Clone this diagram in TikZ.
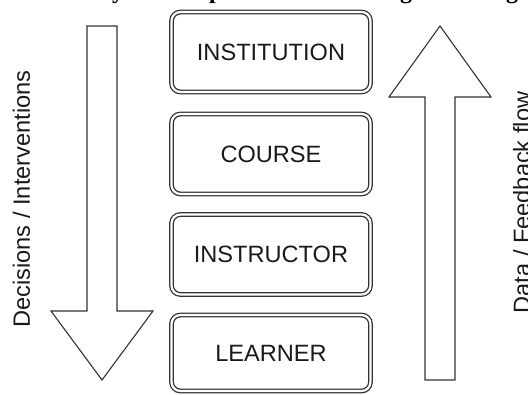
\documentclass[tikz,border=0pt]{standalone}
\usepackage{fontspec}
\setmainfont{Liberation Sans}
\newfontfamily\headingserif{Liberation Serif}
\newcommand\lvlfont{\fontsize{23.6}{28}\selectfont}
\definecolor{linegray}{HTML}{333333}
\definecolor{textgray}{HTML}{1A1A1A}
\begin{document}
\begin{tikzpicture}[x=1pt,y=-1pt,
  level/.style={draw=linegray, double=white, double distance=2.2pt,
    line width=1.3pt, rounded corners=9pt, minimum width=199pt,
    minimum height=80pt, inner sep=0pt, font=\lvlfont, text=textgray},
  blockarrow/.style={draw=linegray, line width=1.1pt, fill=white, line join=miter},
  sidelabel/.style={rotate=90, anchor=base, font=\lvlfont, text=textgray, inner sep=0pt},
  headglyph/.style={anchor=base west, inner sep=0pt,
    font=\headingserif\bfseries\fontsize{24}{24}\selectfont}
]
\useasboundingbox (0,0) rectangle (528,394);
\clip (0,0) rectangle (528,394);

% descenders of the heading line above the figure
\node[headglyph] (hy) at (112,-1.5) {y};
\node[headglyph] (hp) at (209,-1.5) {p};
\node[headglyph] (hg1) at (400,-1.5) {g};
\node[headglyph] (hg2) at (506,-1.5) {g};

% downward block arrow
\draw[blockarrow] (87,26) -- (117,26) -- (117,311) -- (153,311) -- (102,380)
  -- (51,311) -- (87,311) -- cycle;
% upward block arrow
\draw[blockarrow] (425,380) -- (455,380) -- (455,97) -- (491,97) -- (440,26)
  -- (389,97) -- (425,97) -- cycle;

% hierarchy levels
\node[level] (institution) at (271,52) {INSTITUTION};
\node[level] (course) at (271,154) {COURSE};
\node[level] (instructor) at (271,254.5) {INSTRUCTOR};
\node[level, minimum height=76pt] (learner) at (271,353) {LEARNER};

% side labels
\node[sidelabel] (decisions) at (30,199) {Decisions / Interventions};
\node[sidelabel] (feedback) at (530,202.5) {Data / Feedback flow};
\end{tikzpicture}
\end{document}
